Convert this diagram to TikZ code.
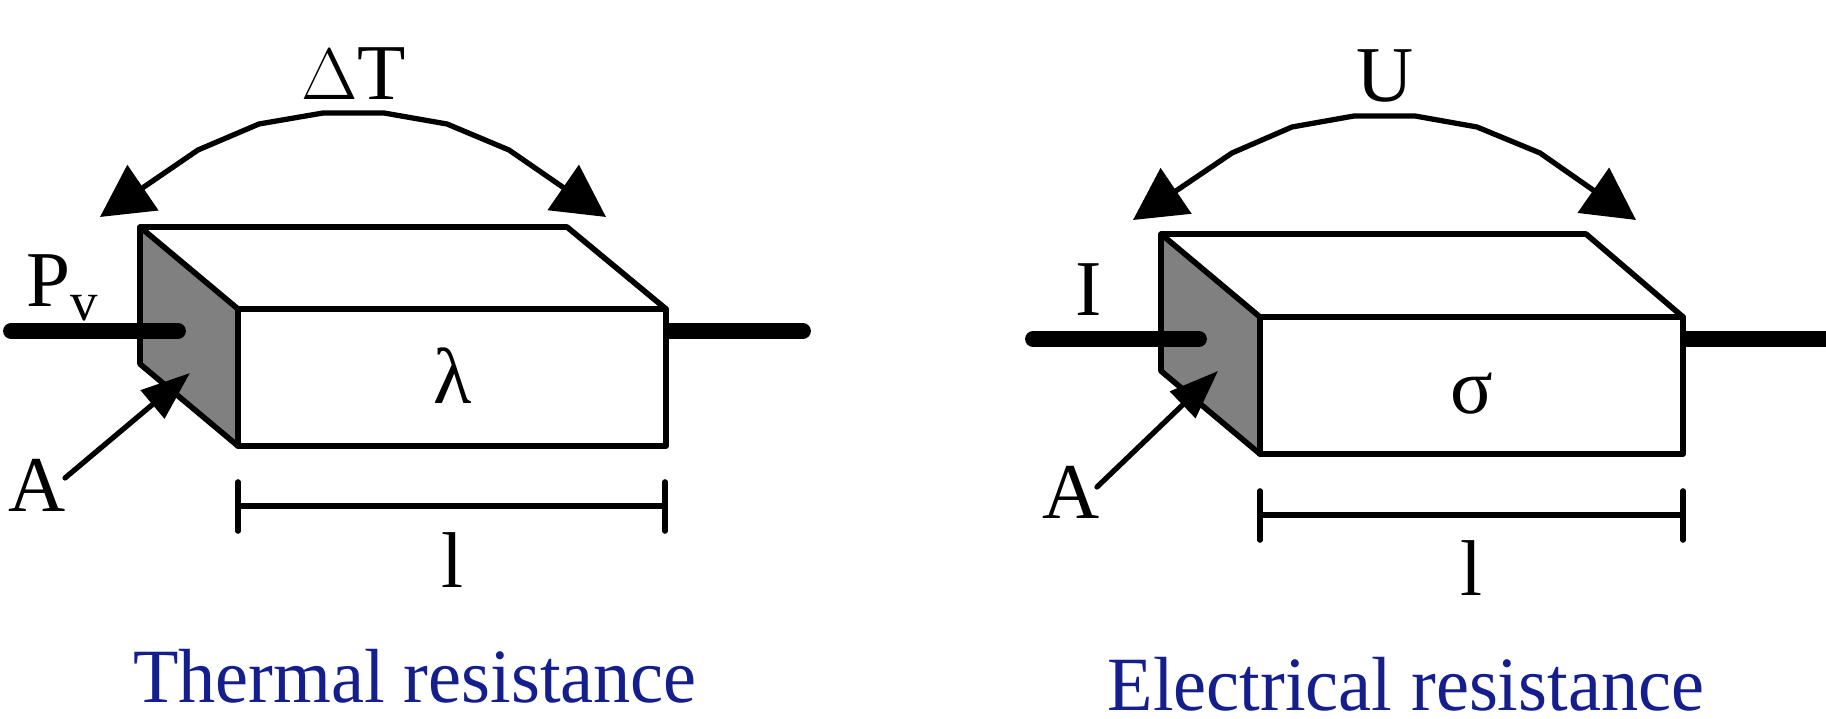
\documentclass[tikz,border=0pt]{standalone}
\usepackage{fontspec}
\usepackage{xcolor}
\setmainfont{Liberation Serif}
\usetikzlibrary{
	arrows.meta,
	calc
}
\definecolor{TitleBlue}{RGB}{20,30,140}
\tikzset{
	edge/.style={line width=1.6pt, line join=round, line cap=round},
	wire/.style={line width=4.5pt, line cap=round},
	sweep/.style={line width=1.5pt, {Triangle[length=0.52cm,width=0.54cm]}-{Triangle[length=0.52cm,width=0.54cm]}},
	pointer/.style={line width=1.5pt, line cap=round, -{Triangle[length=0.49cm,width=0.36cm]}},
	lab/.style={anchor=base, inner sep=0pt, font=\fontsize{22.5}{26}\selectfont},
	title/.style={anchor=base, inner sep=0pt, text=TitleBlue, font=\fontsize{22.5}{26}\selectfont, xscale=0.94, yscale=0.97, transform shape}
}

\begin{document}
\begin{tikzpicture}[x=0.01cm, y=-0.01cm]
	\useasboundingbox (0,0) rectangle (1826,719);

	% thermal
	\coordinate (TB) at (140,227);
	\coordinate (TC) at (567,227);
	\coordinate (TF) at (238,309);
	\coordinate (TR) at (666,309);
	\coordinate (TD) at (666,446);
	\coordinate (TE) at (238,446);
	\coordinate (TL) at (140,364);

	\coordinate (TWa) at (11,331);
	\coordinate (TWb) at (178,331);
	\coordinate (TWc) at (666,331);
	\coordinate (TWd) at (803,331);
	\draw[wire] (TWc) -- (TWd);

	\fill[black!50] (TB) -- (TF) -- (TE) -- (TL) -- cycle;
	\fill[white] (TF) -- (TE) -- (TD) -- (TR) -- cycle;
	\draw[edge] (TB) -- (TC) -- (TR) -- (TF) -- cycle;
	\draw[edge] (TF) -- (TE) -- (TD) -- (TR);
	\draw[edge] (TB) -- (TL) -- (TE);
	\draw[wire] (TWa) -- (TWb);

	% dT
	\coordinate (TAa) at (100,217);
	\coordinate (TAb) at (198,150);
	\coordinate (TAc) at (259,124);
	\coordinate (TAd) at (323,113);
	\coordinate (TAe) at (384,113);
	\coordinate (TAf) at (447,124);
	\coordinate (TAg) at (509,150);
	\coordinate (TAh) at (606,217);
	\draw[sweep] (TAa) -- (TAb) -- (TAc) -- (TAd) -- (TAe) -- (TAf) -- (TAg) -- (TAh);

	\coordinate (TPa) at (65,478);
	\coordinate (TPb) at (190,373);
	\draw[pointer] (TPa) -- (TPb);

	% l
	\coordinate (TMa) at (238,506);
	\coordinate (TMb) at (665,506);
	\draw[edge] (TMa) -- (TMb);
	\draw[edge] ($(TMa)+(0,-24)$) -- ($(TMa)+(0,25)$);
	\draw[edge] ($(TMb)+(0,-24)$) -- ($(TMb)+(0,25)$);

	\node[lab] (dT) at (354,100) {$\Delta$T};
	\node[lab, anchor=base west] (Pv) at (26,307) {P\raisebox{-3.7pt}{\fontsize{15.6}{18}\selectfont v}};
	\node[lab] (TA) at (37,512) {A};
	\node[lab] (lam) at (453,404) {λ};
	\node[lab] (Tl) at (452,588) {l};
	\node[title] (Tt) at (415,703) {Thermal resistance};

	% electrical
	\coordinate (EB) at (1161,234);
	\coordinate (EC) at (1586,234);
	\coordinate (EF) at (1260,317);
	\coordinate (ER) at (1683,317);
	\coordinate (ED) at (1683,454);
	\coordinate (EE) at (1260,454);
	\coordinate (EL) at (1161,371);

	\coordinate (EWa) at (1033,339);
	\coordinate (EWb) at (1199,339);
	\coordinate (EWc) at (1683,339);
	\coordinate (EWd) at (1826,339);
	\draw[wire] (EWc) -- (EWd);

	\fill[black!50] (EB) -- (EF) -- (EE) -- (EL) -- cycle;
	\fill[white] (EF) -- (EE) -- (ED) -- (ER) -- cycle;
	\draw[edge] (EB) -- (EC) -- (ER) -- (EF) -- cycle;
	\draw[edge] (EF) -- (EE) -- (ED) -- (ER);
	\draw[edge] (EB) -- (EL) -- (EE);
	\draw[wire] (EWa) -- (EWb);

	% U
	\coordinate (EAa) at (1133,220);
	\coordinate (EAb) at (1232,153);
	\coordinate (EAc) at (1292,127);
	\coordinate (EAd) at (1354,116);
	\coordinate (EAe) at (1415,116);
	\coordinate (EAf) at (1477,127);
	\coordinate (EAg) at (1540,153);
	\coordinate (EAh) at (1636,220);
	\draw[sweep] (EAa) -- (EAb) -- (EAc) -- (EAd) -- (EAe) -- (EAf) -- (EAg) -- (EAh);

	\coordinate (EPa) at (1097,487);
	\coordinate (EPb) at (1218,371);
	\draw[pointer] (EPa) -- (EPb);

	% l
	\coordinate (EMa) at (1260,515);
	\coordinate (EMb) at (1683,515);
	\draw[edge] (EMa) -- (EMb);
	\draw[edge] ($(EMa)+(0,-24)$) -- ($(EMa)+(0,25)$);
	\draw[edge] ($(EMb)+(0,-24)$) -- ($(EMb)+(0,25)$);

	\node[lab] (U) at (1385,102) {U};
	\node[lab] (I) at (1089,316) {I};
	\node[lab] (EA) at (1071,519) {A};
	\node[lab] (sig) at (1472,414) {σ};
	\node[lab] (El) at (1471,596) {l};
	\node[title] (Et) at (1406,711) {Electrical resistance};
\end{tikzpicture}
\end{document}
